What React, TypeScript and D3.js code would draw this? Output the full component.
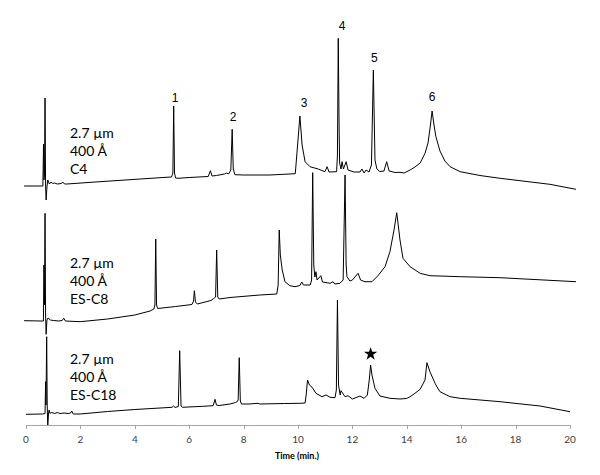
import React from "react";
import * as d3 from "d3";

// ---- Data (time in min, detector signal in arbitrary units, traces stacked) ----
const c4Time = [-0.07,0.55,0.62,0.645,0.66,0.68,0.70,0.72,0.74,0.77,0.80,0.86,0.92,0.98,1.05,1.15,1.30,1.35,1.42,1.5,2.72,5.15,5.35,5.40,5.43,5.46,5.50,5.59,6.0,6.7,6.78,6.84,7.0,7.3,7.38,7.45,7.53,7.58,7.62,7.68,8.0,8.97,9.90,10.0,10.07,10.15,10.26,10.44,10.74,10.99,11.07,11.14,11.42,11.45,11.48,11.51,11.53,11.58,11.62,11.67,11.77,11.84,12.06,12.28,12.35,12.43,12.50,12.61,12.70,12.77,12.83,12.90,13.01,13.16,13.26,13.35,13.57,13.75,13.90,14.12,14.30,14.49,14.67,14.78,14.87,14.93,15.0,15.07,15.22,15.40,15.59,15.96,16.69,17.43,19.26,20.22];
const c4Signal = [239,239,239,281,245,250,327,240,225,238,245,241,243,241.5,242,241,241.5,243,241,241,243.3,247.7,248,252,319,252,247,246.7,247.5,248.5,254.3,249,249.5,251,252,251,255,295.7,256,250.3,250,250,251.3,285,309,280,263.3,258.3,256,253.3,258.3,253,253.3,270,386.7,300,262,256,263.3,256,263.3,255,253,253,256,252,255,253,260,355,265,256,253.5,254,263.3,254,252.5,252.7,252,255,258,262,271.7,282,300,314,300,288.3,274,264,258.3,253.3,249.5,246.7,240.7,235.7];

const c8Time = [-0.07,0.55,0.64,0.66,0.68,0.70,0.72,0.74,0.77,0.81,0.9,1.0,1.2,1.33,1.39,1.45,1.99,3.0,4.0,4.56,4.70,4.74,4.77,4.80,4.84,5.5,6.1,6.16,6.19,6.23,6.3,6.8,6.9,6.97,7.01,7.05,7.10,7.5,8.60,9.22,9.27,9.31,9.35,9.42,9.52,9.70,9.89,10.07,10.14,10.2,10.45,10.50,10.54,10.58,10.62,10.66,10.70,10.84,10.9,11.18,11.29,11.35,11.54,11.66,11.73,11.77,11.80,11.91,12.0,12.21,12.3,12.46,12.72,12.94,13.2,13.38,13.53,13.63,13.75,13.86,14.12,14.49,14.85,15.96,17.43,20.22];
const c8Signal = [104.3,104,104,160,120,211.7,110,90.7,105,107,105,104.5,104,104.5,106.7,104,103.3,106,110,114,116,120,186,120,116.5,118.5,120.5,124,134.3,123,121,124.5,126.5,128,175,128,126,127.5,130,131,140,195,170,155,143.3,139.3,138.3,139.5,143,140,140,145,252.3,160,148,153.3,145,149.3,143,141.7,143.3,141,141.7,145,250,160,148.3,144,145,151.7,145,143.3,143.3,149.3,158.3,173.3,195,212.3,185,166.7,158.3,151.7,149.3,148.3,147.3,143.3];

const c18Time = [0,0.6,0.70,0.72,0.735,0.76,0.78,0.80,0.83,0.85,0.88,0.95,1.05,1.15,1.25,1.4,1.55,1.64,1.68,1.74,1.99,3.0,4.0,5.37,5.42,5.48,5.60,5.65,5.70,5.75,6.5,6.88,6.95,7.00,7.1,7.5,7.70,7.75,7.80,7.84,7.88,7.92,8.2,8.53,8.6,9.5,10.07,10.26,10.30,10.35,10.42,10.52,10.66,10.88,11.03,11.18,11.36,11.41,11.45,11.49,11.55,11.58,11.73,11.84,12.0,12.28,12.43,12.55,12.62,12.67,12.72,12.83,13.01,13.38,13.75,13.99,14.12,14.30,14.49,14.67,14.74,14.85,15.04,15.07,15.22,15.59,15.96,17.43,18.9,20.0];
const c18Signal = [10.7,11,11.5,43.3,20,88.3,20,-1,12,15,11.7,12.5,11.5,12.5,11.5,12,11.5,12,14,11,11,13.5,15.5,17.7,19,17.5,18.5,74.3,19,17.7,18.7,19.3,25.7,20,19.5,21,22.5,23,25,67.3,24,21,21,21.7,21,21.5,21.7,22,30,45,40,37.7,31.7,28.3,30,27.7,27.3,35,125,40,30,34.3,28.3,29.3,26,29,26.7,30,45,60,50,36.7,29,26.7,26,26.5,28.3,31.7,35.7,45,62.3,53.3,41.7,40,33.3,28.3,26.7,23.3,19,13.3];

const columnLines = [
  ["2.7 µm", "400 Å", "C4"],
  ["2.7 µm", "400 Å", "ES-C8"],
  ["2.7 µm", "400 Å", "ES-C18"],
];
const columnLabelSignal = [292, 161.7, 65.7];

const peakLabels = ["1", "2", "3", "4", "5", "6"];
const peakLabelTime = [5.48, 7.61, 10.22, 11.62, 12.81, 14.93];
const peakLabelSignal = [328, 309, 322.3, 399.3, 367.3, 328.3];

const starTime = 12.67;
const starSignal = 72;

const xTicks = [0, 2, 4, 6, 8, 10, 12, 14, 16, 18, 20];
const xTitle = "Time (min.)";

export default function App() {
  const W = 600, H = 475;
  const x = d3.scaleLinear().domain([0, 20]).range([26, 570]);
  const y = d3.scaleLinear().domain([0, 405]).range([425, 20]);
  const line = d3
    .line<[number, number]>()
    .x((d) => x(d[0]))
    .y((d) => y(d[1]));

  const traces = [
    c4Time.map((t, i) => [t, c4Signal[i]] as [number, number]),
    c8Time.map((t, i) => [t, c8Signal[i]] as [number, number]),
    c18Time.map((t, i) => [t, c18Signal[i]] as [number, number]),
  ];

  React.useEffect(() => {
    document.body.style.margin = "0";
    document.body.style.overflow = "hidden";
  }, []);

  const star = d3.symbol().type(d3.symbolStar).size(55)() as string;

  return (
    <svg width={W} height={H} style={{ position: "absolute", left: 0, top: 0, background: "#fff" }}>
      <rect width={W} height={H} fill="#fff" />
      {traces.map((tr, i) => (
        <path key={i} d={line(tr) as string} fill="none" stroke="#000" strokeWidth={1} strokeLinejoin="round" />
      ))}
      {/* x axis */}
      <line x1={x(0)} x2={x(20)} y1={425.5} y2={425.5} stroke="#a6a6a6" strokeWidth={1} />
      {xTicks.map((t) => (
        <g key={t}>
          <line x1={Math.round(x(t)) + 0.5} x2={Math.round(x(t)) + 0.5} y1={425} y2={429} stroke="#a6a6a6" />
          <text x={x(t)} y={443} textAnchor="middle" fontFamily="Lato, 'Open Sans', sans-serif" fontSize={10} fill="#404040">
            {t}
          </text>
        </g>
      ))}
      <text x={297} y={458.5} textAnchor="middle" fontFamily="Lato, 'Open Sans', sans-serif" fontWeight="bold" fontSize={9} fill="#000">
        {xTitle}
      </text>
      {/* column descriptions */}
      {columnLines.map((lines, i) =>
        lines.map((s, j) => (
          <text key={i + "-" + j} x={70} y={y(columnLabelSignal[i]) + 5 + j * 18} fontFamily="Lato, 'Open Sans', sans-serif" fontSize={14} fill="#000">
            {s}
          </text>
        ))
      )}
      {/* peak numbers */}
      {peakLabels.map((p, i) => (
        <text key={p} x={x(peakLabelTime[i])} y={y(peakLabelSignal[i]) + 4.5} textAnchor="middle" fontFamily="'Liberation Sans', Arial, sans-serif" fontSize={12} fill="#000">
          {p}
        </text>
      ))}
      <path d={star} transform={`translate(${x(starTime)},${y(starSignal) + 1})`} fill="#000" />
    </svg>
  );
}
